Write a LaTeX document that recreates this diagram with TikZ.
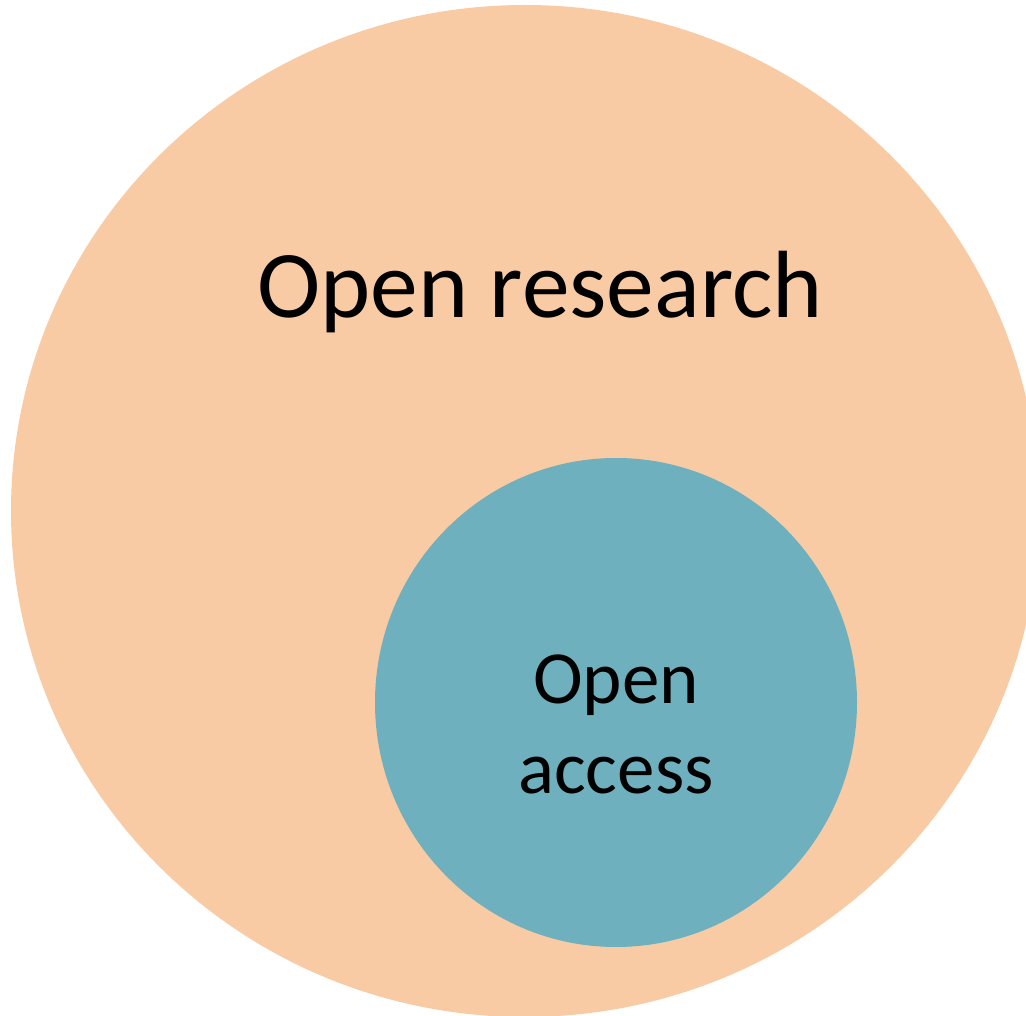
\documentclass[tikz,border=0pt]{standalone}
\usepackage{fontspec}
\usetikzlibrary{shapes.geometric}
\setmainfont{Carlito}
\definecolor{peach}{HTML}{F9CBA4}
\definecolor{teal}{HTML}{6FB0BF}
\begin{document}
\begin{tikzpicture}[x=1pt,y=-1pt]
\useasboundingbox (0,0) rectangle (1026,1016);
\clip (0,0) rectangle (1026,1016);
\node[ellipse,fill=peach,minimum width=1028pt,minimum height=1012pt,inner sep=0pt] (outer) at (525,511) {};
\node[ellipse,fill=teal,minimum width=482pt,minimum height=489pt,inner sep=0pt] (inner) at (616,702.5) {};
\node[font=\fontsize{95.5}{96}\selectfont,anchor=base] (t1) at (540,318) {Open research};
\node[font=\fontsize{75}{90}\selectfont,align=center] (t2) at (616,724) {Open\\access};
\end{tikzpicture}
\end{document}
